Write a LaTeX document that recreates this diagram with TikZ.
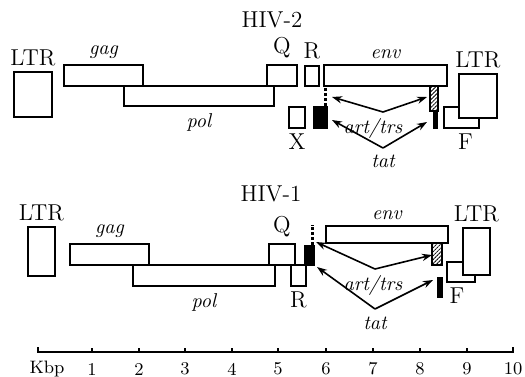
\documentclass[tikz,border=0pt]{standalone}
\usepackage{tikz}
\usetikzlibrary{arrows.meta,positioning,fit,patterns.meta}

\begin{document}
\begin{tikzpicture}[
  x=0.5pt, y=-0.5pt,
  node distance = 1.5pt,
  gene/.style   = {draw, thick, fill=white, inner sep=0pt},
  exon/.style   = {draw, fill=black, inner sep=0pt},
  hatch/.style  = {draw, thick, inner sep=0pt,
                   pattern={Lines[angle=45,distance=1.4pt,line width=0.4pt]}},
  stip/.style   = {line width=1.4pt, densely dotted},
  lbl/.style    = {font=\fontsize{11.5}{13}\selectfont, inner sep=1pt},
  orf/.style    = {font=\normalsize\itshape, inner sep=1pt},
  num/.style    = {font=\small, inner sep=1pt},
  arr/.style    = {-{Stealth[length=5pt,width=3.6pt]}, thick},
]
\useasboundingbox (0,0) rectangle (525,376);

%% ─── HIV-2 ────────────────────────────────────────────────────────────────
\node[lbl] (title2) at (272,20) {HIV-2};

\node[gene, fit={(14,72) (52,117)}]    (ltrA2) {};
\node[gene, fit={(64,65) (143,86)}]    (gag2)  {};
\node[gene, fit={(124,86) (274,106)}]  (pol2)  {};
\node[gene, fit={(267,65) (297,86)}]   (q2)    {};
\node[gene, fit={(305,66) (319,86)}]   (r2)    {};
\node[gene, fit={(324,65) (447,86)}]   (env2)  {};
\node[gene, fit={(289,107) (305,128)}] (x2)    {};
\node[exon, fit={(313,106) (327,128)}] (tatA2) {};
\node[hatch, fit={(430,86) (438,111)}] (artB2) {};
\node[exon, fit={(433,111) (437,128)}] (tatB2) {};
\node[gene, fit={(444,107) (479,128)}] (f2)    {};
\node[gene, fit={(459,74) (497,118)}]  (ltrB2) {};
\draw[stip] ([xshift=-0.8pt]tatA2.north east) -- ([xshift=-0.8pt]tatA2.north east |- env2.south);

\node[lbl, above=of ltrA2] {LTR};
\node[orf, above=of gag2]  {gag};
\node[orf, below=2pt of pol2] {pol};
\node[lbl, above=2pt of q2] {Q};
\node[lbl, above=2pt of r2] {R};
\node[orf, above=of env2]  {env};
\node[lbl, below=of x2]    {X};
\node[lbl, above=of ltrB2] {LTR};
\node[lbl, below=of f2, xshift=2pt] {F};

\coordinate (art2)  at (383,112);
\coordinate (artL2) at (332,97);
\coordinate (artR2) at (427,97);
\coordinate (tat2)  at (383,148);
\coordinate (tatL2) at (332,120);
\coordinate (tatR2) at (427,122);
\node[orf] (arttxt2) at (373,128) {art/trs};
\node[orf] (tattxt2) at (383,161) {tat};
\foreach \b in {artL2, artR2} \draw[arr] (art2) -- (\b);
\foreach \b in {tatL2, tatR2} \draw[arr] (tat2) -- (\b);

%% ─── HIV-1 ────────────────────────────────────────────────────────────────
\node[lbl] (title1) at (271,194) {HIV-1};

\node[gene, fit={(28,227) (55,276)}]   (ltrA1) {};
\node[gene, fit={(70,244) (149,265)}]  (gag1)  {};
\node[gene, fit={(133,265) (275,286)}] (pol1)  {};
\node[gene, fit={(269,244) (295,265)}] (q1)    {};
\node[gene, fit={(291,265) (306,286)}] (r1)    {};
\node[exon, fit={(304,245) (314,265)}] (tatA1) {};
\node[gene, fit={(326,226) (448,243)}] (env1)  {};
\node[hatch, fit={(432,243) (442,265)}] (artB1) {};
\node[exon, fit={(437,277) (442,297)}] (tatB1) {};
\node[gene, fit={(447,262) (475,282)}] (f1)    {};
\node[gene, fit={(463,228) (490,275)}] (ltrB1) {};
\draw[stip] ([xshift=-1pt]tatA1.north east) -- ++(0,-20);

\node[lbl, above=of ltrA1] {LTR};
\node[orf, above=of gag1]  {gag};
\node[orf, below=2pt of pol1] {pol};
\node[lbl, above=2pt of q1] {Q};
\node[lbl, below=of r1]    {R};
\node[orf, above=of env1]  {env};
\node[lbl, above=of ltrB1] {LTR};
\node[lbl, below=of f1, xshift=-2pt] {F};

\coordinate (art1)  at (375,269);
\coordinate (artL1) at (316,242);
\coordinate (artR1) at (432,255);
\coordinate (tat1)  at (375,309);
\coordinate (tatL1) at (317,267);
\coordinate (tatR1) at (433,280);
\node[orf] (arttxt1) at (373,285) {art/trs};
\node[orf] (tattxt1) at (375,323) {tat};
\foreach \b in {artL1, artR1} \draw[arr] (art1) -- (\b);
\foreach \b in {tatL1, tatR1} \draw[arr] (tat1) -- (\b);

%% ─── scale ────────────────────────────────────────────────────────────────
\draw[semithick] (38,347) -- (38,352) -- (513,352) -- (513,347);
\node[num] (kbp) at (47,369) {Kbp};
\foreach \x/\n in {92/1,139/2,185/3,232/4,278/5,326/6,373/7,420/8,467/9,513/10} {
  \draw[semithick] (\x,352) -- (\x,348);
  \node[num] (n\n) at (\x,369) {\n};
}

\end{tikzpicture}
\end{document}
